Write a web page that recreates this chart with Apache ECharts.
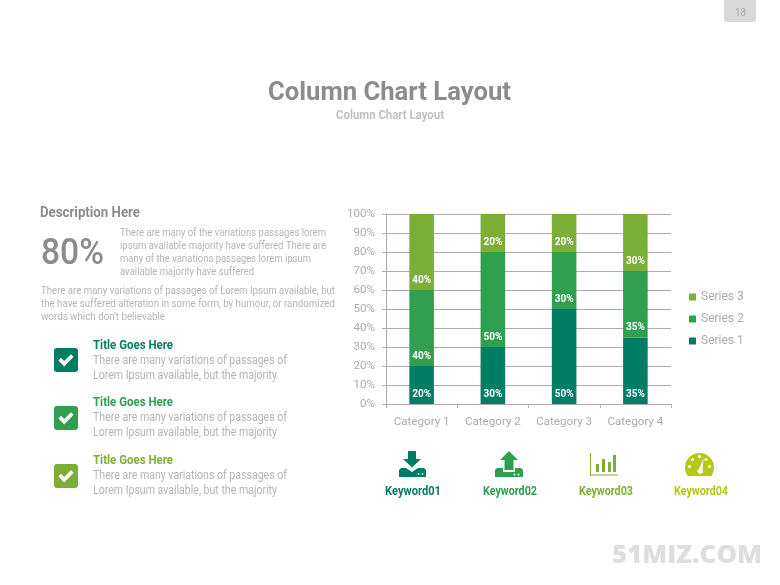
<!DOCTYPE html>
<html>
<head>
<meta charset="utf-8">
<style>html,body{margin:0;padding:0;background:#fff}#c{width:780px;height:585px}</style>
<script src="https://cdn.jsdelivr.net/npm/echarts@6/dist/echarts.min.js"></script>
</head>
<body>
<div id="c"></div>
<script>
const categories = ['Category 1', 'Category 2', 'Category 3', 'Category 4'];
const series1 = [20, 30, 50, 35];
const series2 = [40, 50, 30, 35];
const series3 = [40, 20, 20, 30];
const seriesNames = ['Series 1', 'Series 2', 'Series 3'];
const colors = ['#007D65', '#30A04F', '#7CAF38'];
const lime = '#B5C812';

const FF = 'Roboto';
const ctx = document.createElement('canvas').getContext('2d');
// Text squeezed to the reference's measured width
function fit(text, x, y, width, size, color, weight) {
  const w = weight || 'normal';
  ctx.font = w + ' ' + size + 'px ' + FF;
  const m = ctx.measureText(text).width;
  return { type: 'text', x: x, y: y + 1, scaleX: width / m, silent: true, z: 10,
    style: { text: text, font: w + ' ' + size + 'px ' + FF, fill: color, textAlign: 'left', textVerticalAlign: 'middle' } };
}
function rect(x, y, w, h, fill, r) {
  return { type: 'rect', shape: { x: x, y: y, width: w, height: h, r: r || 0 }, style: { fill: fill }, silent: true, z: 5 };
}
function poly(points, fill) {
  return { type: 'polygon', shape: { points: points }, style: { fill: fill }, silent: true, z: 5 };
}
function dot(cx, cy, r, fill) {
  return { type: 'circle', shape: { cx: cx, cy: cy, r: r }, style: { fill: fill }, silent: true, z: 6 };
}

const gray = '#B4B4B4';
const els = [];

// page tab
els.push({ type: 'rect', shape: { x: 724, y: -5, width: 32, height: 27, r: 3 }, style: { fill: '#D9D9D9' }, silent: true });
els.push(fit('18', 735, 12, 11, 10, '#A6A6A6'));

// headings
els.push(fit('Column Chart Layout', 268, 92, 243, 26, '#8C8C8C', 'bold'));
els.push(fit('Column Chart Layout', 336, 115, 108, 12, '#C0C0C0', 'bold'));

// left column
els.push(fit('Description Here', 40, 212, 100, 15, '#8C8C8C', 'bold'));
els.push(fit('80%', 41, 254, 63, 36, '#8C8C8C', '500'));
[['There are many of the variations passages lorem', 206, 232],
 ['ipsum available majority have suffered There are', 206, 245],
 ['many of the variations passages lorem ipsum', 191, 258],
 ['available majority have suffered', 134, 271]].forEach(l => els.push(fit(l[0], 120, l[2], l[1], 11, gray)));
[['There are many variations of passages of Lorem Ipsum available, but', 294, 290],
 ['the have suffered alteration in some form, by humour, or randomized', 294, 303],
 ['words which don\'t believable', 124, 316]].forEach(l => els.push(fit(l[0], 41, l[2], l[1], 11, gray)));

// check list
[[348, 345, 360, 375, colors[0]], [406, 402, 417, 432, colors[1]], [464, 460, 475, 490, colors[2]]].forEach(r => {
  const t = r[0];
  els.push(rect(54, t, 24, 24, r[4], 3));
  els.push(poly([[58.5, t + 12.5], [61, t + 9.8], [64.2, t + 13], [71, t + 6.2], [73.6, t + 8.8], [64.2, t + 18.4]], '#fff'));
  els.push(fit('Title Goes Here', 93, r[1], 80, 12, r[4], 'bold'));
  els.push(fit('There are many variations of passages of', 93, r[2], 194, 12, gray));
  els.push(fit('Lorem Ipsum available, but the majority', 93, r[3], 184, 12, gray));
});

// keyword icons
// download
els.push(poly([[408, 451], [416, 451], [416, 459], [421, 459], [412, 467.5], [403, 459], [408, 459]], colors[0]));
els.push(poly([[399, 470], [401, 468], [406, 468], [412, 472], [418, 468], [424, 468], [426, 470], [426, 477], [399, 477]], colors[0]));
els.push(dot(418.5, 474, 0.9, '#fff'), dot(422.5, 474, 0.9, '#fff'));
// upload
els.push(poly([[509, 451], [518, 460], [513.5, 460], [513.5, 470], [504.5, 470], [504.5, 460], [500, 460]], colors[1]));
els.push(poly([[495, 470], [497, 468], [503, 468], [503, 472], [515, 472], [515, 468], [521, 468], [523, 470], [523, 477], [495, 477]], colors[1]));
els.push(dot(514.5, 474.5, 0.9, '#fff'), dot(518.5, 474.5, 0.9, '#fff'));
// bars
els.push(rect(590, 453, 1, 23, colors[2]), rect(590, 474.5, 28, 1, colors[2]));
els.push(rect(596, 464, 3, 8, colors[2]), rect(602, 459, 3, 13, colors[2]), rect(608, 462, 3, 10, colors[2]), rect(613, 455, 3, 17, colors[2]));
// gauge
els.push({ type: 'sector', shape: { cx: 699.5, cy: 467.5, r: 14.5, r0: 0, startAngle: Math.PI * 0.78, endAngle: Math.PI * 2.22, clockwise: true }, style: { fill: lime }, silent: true, z: 5 });
els.push(poly([[699.5, 467.5], [688, 476], [711, 476]], lime));
[[689.5, 466.5], [692.5, 459.5], [699.5, 456.5], [706, 459.5], [709.5, 466.5]].forEach(p => els.push(dot(p[0], p[1], 1.6, '#fff')));
els.push(poly([[703.5, 458.5], [702.5, 470], [703, 473], [699, 474], [697, 471], [699, 469]], '#fff'));
// keywords
[['Keyword01', 385, 56, colors[0]], ['Keyword02', 483, 54, colors[1]], ['Keyword03', 579, 54, colors[2]], ['Keyword04', 674, 54, lime]]
  .forEach(k => els.push(fit(k[0], k[1], 491, k[2], 12, k[3], 'bold')));

// watermark
const wmFont = '800 25px "Open Sans"';
ctx.font = wmFont;
const wmW = ctx.measureText('51MIZ.COM').width;
els.push({ type: 'text', x: 612, y: 556, scaleX: 150 / wmW, silent: true,
  style: { text: '51MIZ.COM', font: wmFont, fill: '#DEDEDE', textAlign: 'left', textVerticalAlign: 'middle' } });

const lineColor = '#ADADAD';
const axisLine = { show: true, lineStyle: { color: lineColor, width: 1 } };
const axisText = { color: '#ABABAB', fontFamily: FF, fontSize: 11.6 };
function makeSeries(i, values) {
  return {
    name: seriesNames[i], type: 'bar', stack: 'total', data: values, barWidth: '34.5%',
    itemStyle: { color: colors[i] },
    label: { show: true, position: 'insideBottom', distance: 5, formatter: '{c}%', color: '#fff',
      fontFamily: FF, fontSize: 10, fontWeight: 'bold' }
  };
}

const chart = echarts.init(document.getElementById('c'), null, { renderer: 'canvas' });
chart.setOption({
  animation: false,
  backgroundColor: '#fff',
  grid: { left: 386, top: 214, width: 285, height: 190, containLabel: false },
  legend: {
    data: seriesNames.slice().reverse(), orient: 'vertical', left: 684, top: 286,
    icon: 'rect', itemWidth: 7, itemHeight: 7, itemGap: 10,
    textStyle: { color: '#ABABAB', fontFamily: FF, fontSize: 12 }
  },
  xAxis: {
    type: 'category', data: categories,
    axisLine: axisLine,
    axisTick: { show: true, length: 4, alignWithLabel: false, lineStyle: { color: lineColor } },
    axisLabel: Object.assign({ margin: 12, interval: 0 }, axisText)
  },
  yAxis: {
    type: 'value', min: 0, max: 100, interval: 10,
    axisLine: axisLine,
    axisTick: { show: true, length: 4, lineStyle: { color: lineColor } },
    axisLabel: Object.assign({ margin: 11, formatter: '{value}%', padding: [4, 0, 0, 0] }, axisText),
    splitLine: { show: true, lineStyle: { color: lineColor, width: 1 } }
  },
  series: [makeSeries(0, series1), makeSeries(1, series2), makeSeries(2, series3)],
  graphic: { elements: els }
});
</script>
</body>
</html>
